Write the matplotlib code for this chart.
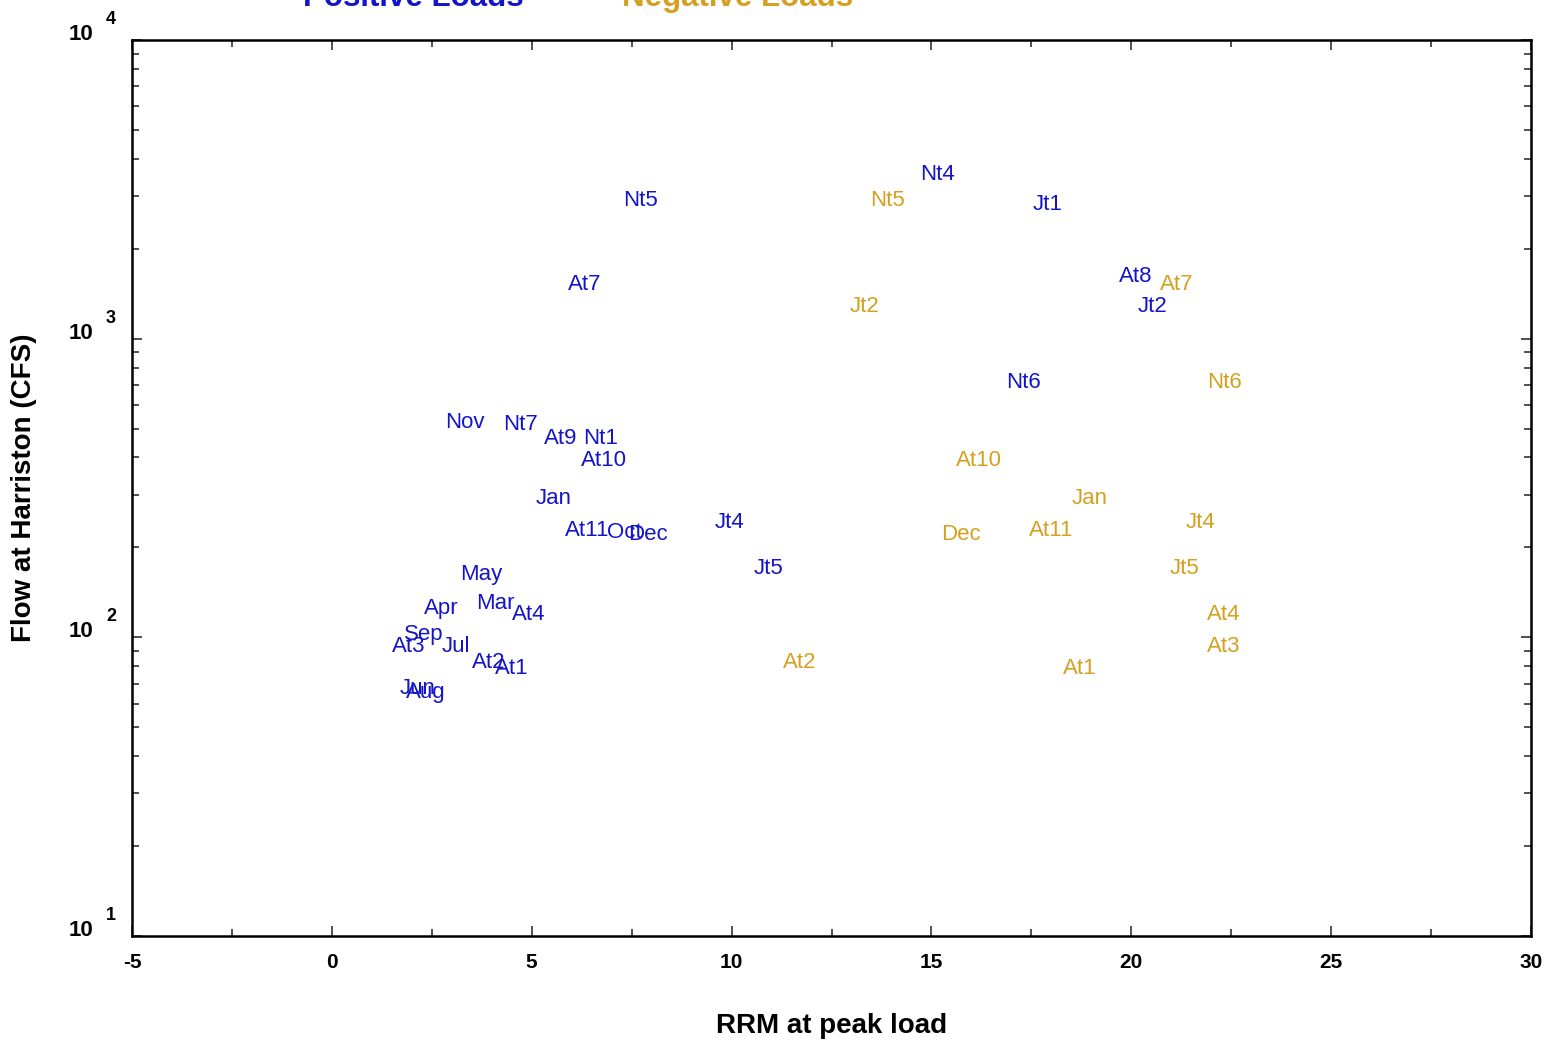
import matplotlib
matplotlib.use("Agg")
import matplotlib.pyplot as plt
import matplotlib.transforms as mtransforms
from matplotlib.ticker import FixedLocator, LogLocator, NullFormatter
import numpy as np

plt.rcParams['font.family'] = ['Liberation Sans', 'DejaVu Sans']

# Positive loads (blue)
pos_labels = ["Nt5", "At7", "Nt4", "Jt1", "At8", "Jt2", "Nt6", "Nov", "Nt7", "At9",
              "Nt1", "At10", "Jan", "At11", "Oct", "Dec", "Jt4", "Jt5", "May", "Apr",
              "Mar", "At4", "Sep", "At3", "Jul", "At2", "At1", "Jun", "Aug"]
pos_x = [7.73, 6.33, 15.14, 17.91, 20.11, 20.54, 17.31, 3.33, 4.73, 5.73,
         6.73, 6.80, 5.55, 6.38, 7.31, 7.91, 9.96, 10.93, 3.73, 2.73,
         4.10, 4.93, 2.30, 1.93, 3.10, 3.93, 4.50, 2.15, 2.35]
pos_y = [2958, 1549, 3614, 2871, 1648, 1306, 728, 535, 526, 472,
         472, 399, 297, 232, 229, 226, 247, 173, 166, 127,
         132, 122, 104, 95, 95, 84, 80, 68.7, 66.7]

# Negative loads (gold)
neg_labels = ["Nt5", "Jt2", "At7", "Nt6", "At10", "Jan", "Dec", "At11", "Jt4", "Jt5",
              "At4", "At3", "At1", "At2"]
neg_x = [13.91, 13.33, 21.14, 22.32, 16.19, 18.96, 15.74, 17.99, 21.74, 21.34,
         22.32, 22.32, 18.71, 11.71]
neg_y = [2958, 1306, 1549, 728, 399, 297, 226, 232, 247, 173,
         122, 95, 80, 84]

x_ticks = [-5, 0, 5, 10, 15, 20, 25, 30]
y_ticks = [10, 100, 1000, 10000]

BLUE = '#1414C8'
GOLD = '#D4A020'

fig = plt.figure(figsize=(15.49, 10.43), dpi=100)
ax = fig.add_axes([0.0852, 0.1026, 0.9032, 0.8591])

ax.set_yscale('log')
ax.set_xlim(-5, 30)
ax.set_ylim(10, 10000)

for lab, x, y in zip(pos_labels, pos_x, pos_y):
    ax.text(x, y, lab, color=BLUE, fontsize=16, ha='center', va='center_baseline')
for lab, x, y in zip(neg_labels, neg_x, neg_y):
    ax.text(x, y, lab, color=GOLD, fontsize=16, ha='center', va='center_baseline')

ax.xaxis.set_major_locator(FixedLocator(x_ticks))
ax.xaxis.set_minor_locator(FixedLocator([-2.5, 2.5, 7.5, 12.5, 17.5, 22.5, 27.5]))
ax.set_xticklabels([str(t) for t in x_ticks], fontweight='bold', fontsize=15)
ax.yaxis.set_major_locator(FixedLocator(y_ticks))
ax.yaxis.set_minor_locator(LogLocator(base=10, subs=range(2, 10)))
ax.yaxis.set_minor_formatter(NullFormatter())
ax.set_yticklabels(['10'] * len(y_ticks), fontsize=16, fontweight='bold')
for t in ax.get_yticklabels():
    t.set_verticalalignment('baseline')

# exponents drawn as raised text next to each "10"
blend = mtransforms.blended_transform_factory(ax.transAxes, ax.transData)
sup_tr = blend + mtransforms.ScaledTranslation(-26 / 100, 16 / 100, fig.dpi_scale_trans)
for v in y_ticks:
    ax.text(0, v, str(int(round(np.log10(v)))), transform=sup_tr, fontsize=13,
            fontweight='bold', ha='left', va='baseline', clip_on=False)

ax.tick_params(which='both', direction='in', top=True, right=True, width=1.2, color='#333333')
ax.tick_params(axis='x', which='major', length=7, pad=12)
ax.tick_params(axis='y', which='major', length=7, pad=28)
ax.tick_params(which='minor', length=5)
for s in ax.spines.values():
    s.set_linewidth(1.8)

ax.set_xlabel('RRM at peak load', fontsize=20, fontweight='bold', labelpad=30)
ax.set_ylabel('Flow at Harriston (CFS)', fontsize=20, fontweight='bold')
ax.yaxis.set_label_coords(-0.068, 0.5)

fig.text(413 / 1549, 1.002, 'Positive Loads', color=BLUE, fontsize=22.5, fontweight='bold',
         ha='center', va='center')
fig.text(738 / 1549, 1.002, 'Negative Loads', color=GOLD, fontsize=22.5, fontweight='bold',
         ha='center', va='center')

fig.savefig('out.png', dpi=100, facecolor='white')
